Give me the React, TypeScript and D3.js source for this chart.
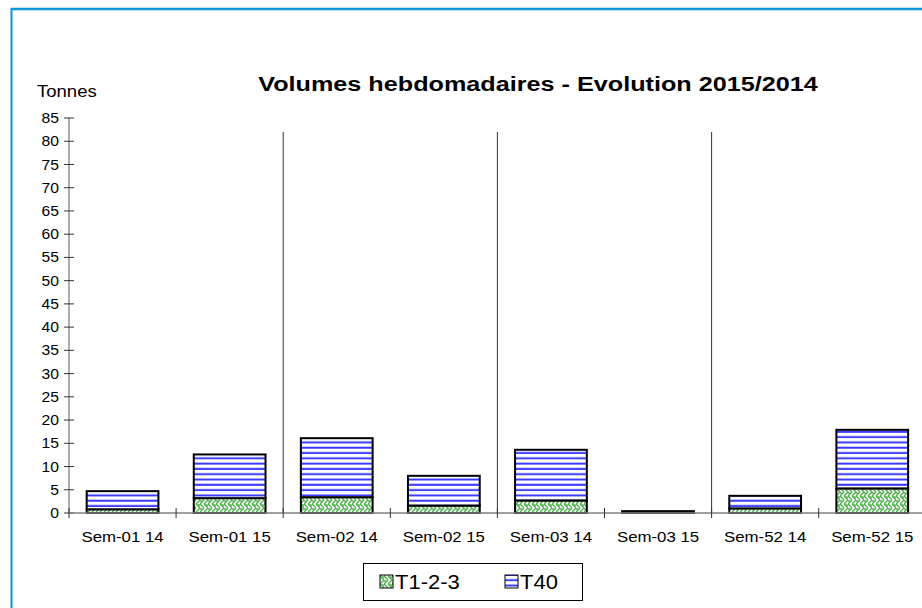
import React from "react";
import * as d3 from "d3";

const categories = ["Sem-01 14", "Sem-01 15", "Sem-02 14", "Sem-02 15", "Sem-03 14", "Sem-03 15", "Sem-52 14", "Sem-52 15"];
const t123 = [0.8, 3.2, 3.4, 1.6, 2.7, 0.1, 1.0, 5.3];
const t40 = [3.9, 9.4, 12.7, 6.4, 10.9, 0.3, 2.7, 12.6];
const seriesNames = ["T1-2-3", "T40"];
const yTicks = d3.range(0, 86, 5);

const W = 922, H = 608;
const x0 = 69, step = 107.1, yBase = 513, yTop = 118;

function SText({ x, y, sx, children, ...rest }: any) {
  return (
    <g transform={`translate(${x},${y}) scale(${sx},1)`}>
      <text x={0} y={0} {...rest}>{children}</text>
    </g>
  );
}

export default function App() {
  const x = d3.scaleBand<string>().domain(categories).range([x0, x0 + step * categories.length]).paddingInner(0.33).paddingOuter(0.165);
  const y = d3.scaleLinear().domain([0, 85]).range([yBase, yTop]);
  const stacked = d3.stack<any>().keys(seriesNames)(categories.map((c, i) => ({ cat: c, "T1-2-3": t123[i], T40: t40[i] })));
  const fills = ["url(#weave)", "url(#hlines)"];
  const boundaries = d3.range(0, categories.length + 1).map(i => x0 + step * i);
  return (
    <svg width={W} height={H} style={{ position: "absolute", left: 0, top: 0, fontFamily: "Liberation Sans, Arial, sans-serif" }}>
      <defs>
        <pattern id="hlines" width="8" height="5.3" patternUnits="userSpaceOnUse">
          <rect width="8" height="5.3" fill="#fff" />
          <rect y="1.5" width="8" height="2" fill="#3a3aff" />
        </pattern>
        <pattern id="weave" width="8" height="8" patternUnits="userSpaceOnUse">
          <rect width="8" height="8" fill="#fff" />
          <path d="M0,0 L4,4 M4,4 L0,8 M4,0 L8,4 L4,8" stroke="#4caf4c" strokeWidth="1.4" fill="none" />
          <path d="M6,0 L8,2 M2,6 L0,4" stroke="#4caf4c" strokeWidth="1.4" fill="none" />
        </pattern>
      </defs>
      <rect x={0} y={0} width={W} height={H} fill="#fff" />
      <line x1={11} x2={W} y1={9} y2={9} stroke="#0a96d8" strokeWidth={2.5} />
      <line x1={11.5} x2={11.5} y1={8} y2={H} stroke="#0a96d8" strokeWidth={2} />

      <SText x={538} y={91} sx={1.2} textAnchor="middle" fontWeight="bold" fontSize={21}>Volumes hebdomadaires - Evolution 2015/2014</SText>
      <SText x={37} y={97} sx={1.09} fontSize={17}>Tonnes</SText>

      {[2, 4, 6].map(i => (
        <line key={i} x1={boundaries[i]} x2={boundaries[i]} y1={132} y2={yBase} stroke="#333" strokeWidth={1} />
      ))}

      {stacked.map((s, si) => s.map((d, i) => {
        const yy = y(d[1]), hh = y(d[0]) - y(d[1]);
        return <rect key={si + "-" + i} x={x(categories[i])} y={yy} width={x.bandwidth()} height={Math.max(hh, 0)} fill={fills[si]} stroke="#000" strokeWidth={2} />;
      }))}

      <line x1={x0} x2={x0} y1={yTop} y2={yBase} stroke="#808080" strokeWidth={1.3} />
      {yTicks.map(t => (
        <g key={t}>
          <line x1={x0 - 5} x2={x0 + 5} y1={y(t)} y2={y(t)} stroke="#333" strokeWidth={1} />
          <SText x={x0 - 10} y={y(t)} sx={1.12} dy="0.36em" textAnchor="end" fontSize={14}>{t}</SText>
        </g>
      ))}
      <line x1={x0} x2={W} y1={yBase} y2={yBase} stroke="#808080" strokeWidth={1.3} />
      {boundaries.map((b, i) => (
        <line key={i} x1={b} x2={b} y1={yBase - 5} y2={yBase + 5} stroke="#333" strokeWidth={1} />
      ))}
      {categories.map(c => (
        <SText key={c} x={(x(c) as number) + x.bandwidth() / 2} y={542} sx={1.16} textAnchor="middle" fontSize={14.5}>{c}</SText>
      ))}

      <rect x={363.5} y={563.5} width={219} height={37} fill="#fff" stroke="#000" strokeWidth={1} />
      {seriesNames.map((n, i) => {
        const lx = i === 0 ? 380 : 505;
        return (
          <g key={n}>
            <rect x={lx} y={575} width={13} height={13} fill={fills[i]} stroke="#000" strokeWidth={1} />
            <SText x={lx + 15} y={589} sx={1.1} fontSize={20}>{n}</SText>
          </g>
        );
      })}
    </svg>
  );
}
